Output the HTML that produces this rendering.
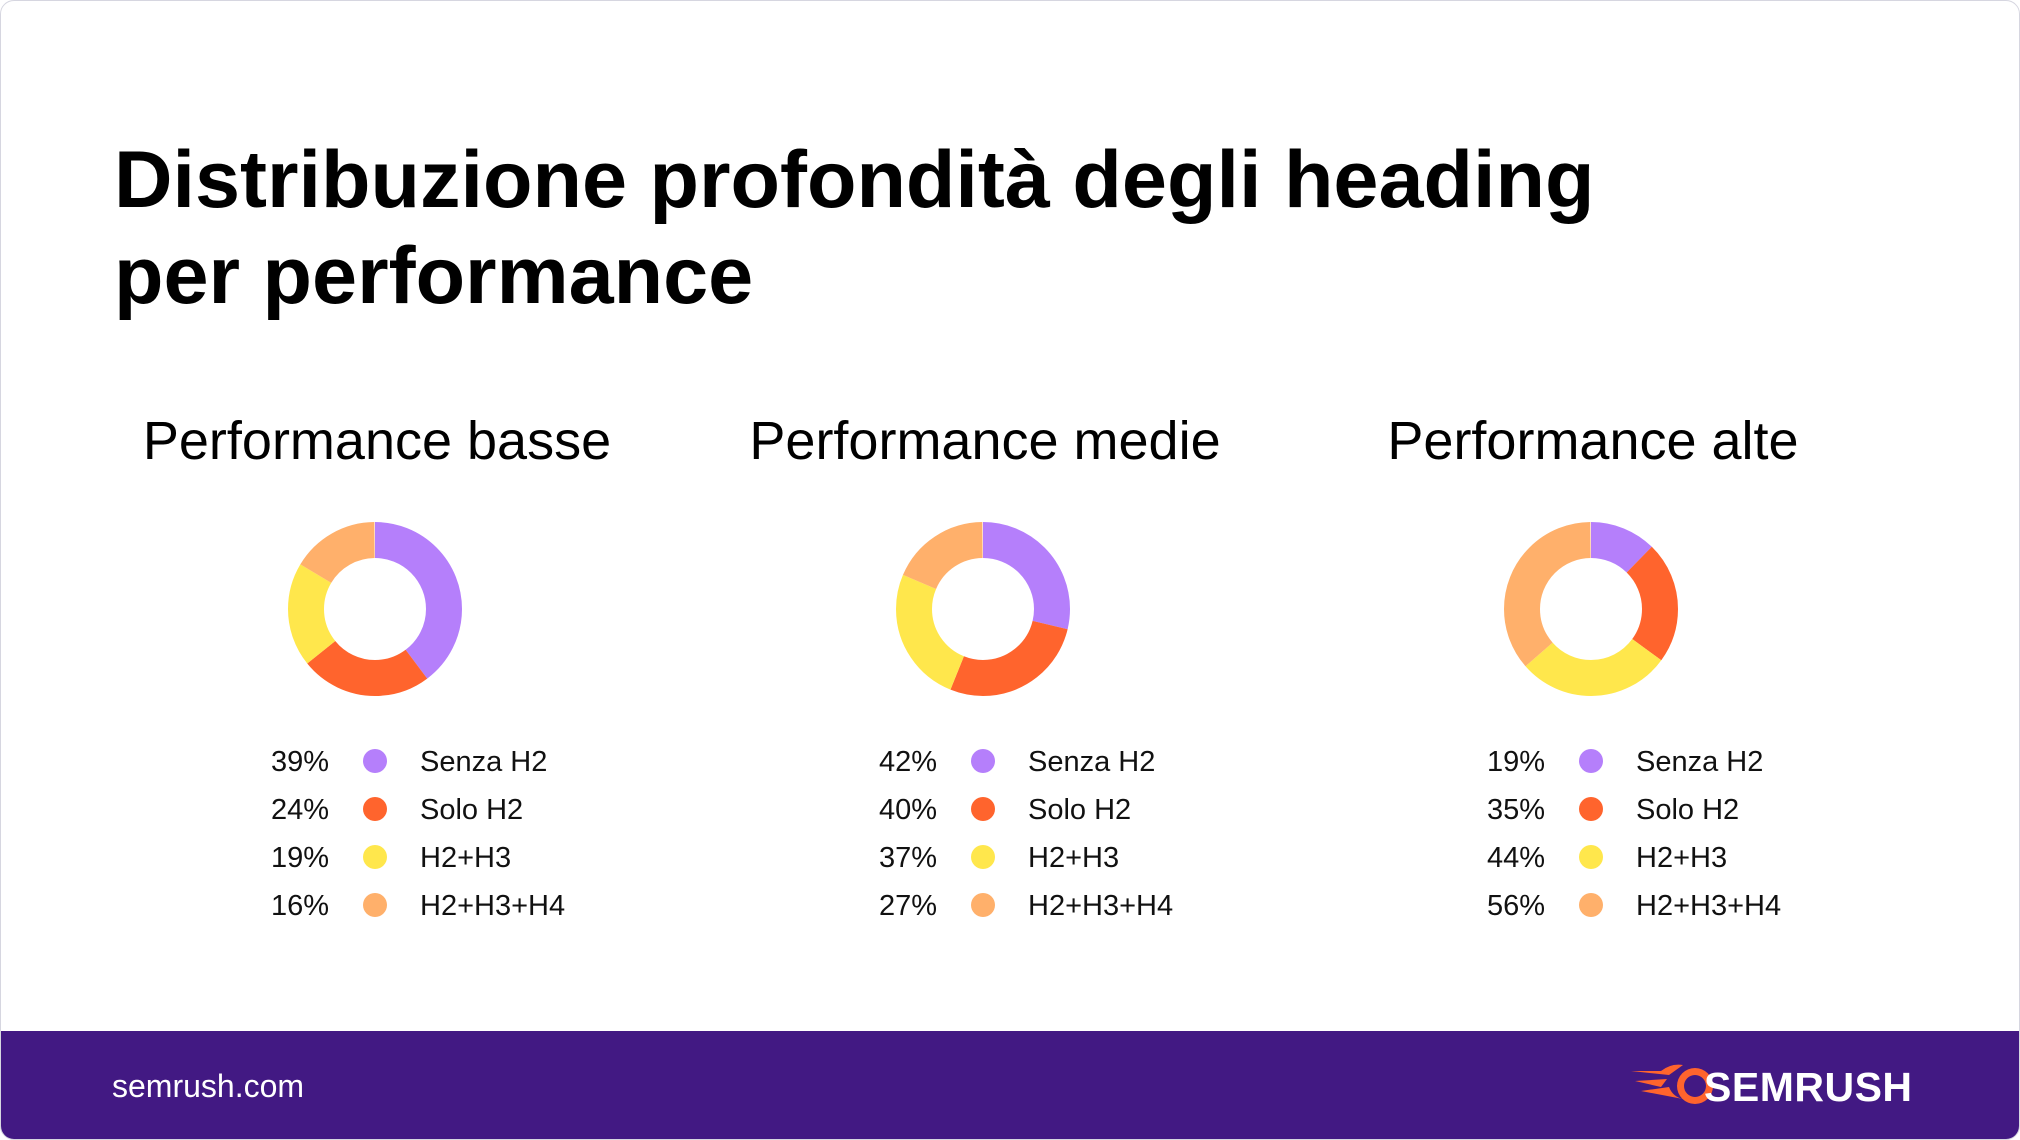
<!DOCTYPE html>
<html><head><meta charset="utf-8"><style>
body{margin:0;width:2020px;height:1140px;overflow:hidden;background:#fff;font-family:"Liberation Sans",sans-serif;}
.card{position:absolute;left:0;top:0;width:2018px;height:1138px;border:1px solid #d6d6e0;border-radius:14px;overflow:hidden;background:#fff}
</style></head><body>
<div class="card">
<svg width="2020" height="1140" style="position:absolute;left:0;top:0">
<g font-family="Liberation Sans, sans-serif" fill="#000">
<text x="113" y="206" font-size="81" font-weight="bold" letter-spacing="0">Distribuzione profondità degli heading</text>
<text x="113" y="302" font-size="81" font-weight="bold" letter-spacing="0">per performance</text>
<g font-size="54" text-anchor="middle">
<text x="376" y="458">Performance basse</text>
<text x="984" y="458">Performance medie</text>
<text x="1592" y="458">Performance alte</text>
</g>
</g>
<g fill="none" stroke-width="36" transform="rotate(-90)">
<g transform="translate(-608,374)">
<circle r="69" pathLength="100" stroke="#b57ffb" stroke-dasharray="39.80 100" stroke-dashoffset="0"/>
<circle r="69" pathLength="100" stroke="#ff642d" stroke-dasharray="24.49 100" stroke-dashoffset="-39.80"/>
<circle r="69" pathLength="100" stroke="#ffe74c" stroke-dasharray="19.39 100" stroke-dashoffset="-64.29"/>
<circle r="69" pathLength="100" stroke="#ffb06b" stroke-dasharray="16.33 100" stroke-dashoffset="-83.68"/>
</g>
<g transform="translate(-608,982)">
<circle r="69" pathLength="100" stroke="#b57ffb" stroke-dasharray="28.77 100" stroke-dashoffset="0"/>
<circle r="69" pathLength="100" stroke="#ff642d" stroke-dasharray="27.40 100" stroke-dashoffset="-28.77"/>
<circle r="69" pathLength="100" stroke="#ffe74c" stroke-dasharray="25.34 100" stroke-dashoffset="-56.17"/>
<circle r="69" pathLength="100" stroke="#ffb06b" stroke-dasharray="18.49 100" stroke-dashoffset="-81.51"/>
</g>
<g transform="translate(-608,1590)">
<circle r="69" pathLength="100" stroke="#b57ffb" stroke-dasharray="12.34 100" stroke-dashoffset="0"/>
<circle r="69" pathLength="100" stroke="#ff642d" stroke-dasharray="22.73 100" stroke-dashoffset="-12.34"/>
<circle r="69" pathLength="100" stroke="#ffe74c" stroke-dasharray="28.57 100" stroke-dashoffset="-35.07"/>
<circle r="69" pathLength="100" stroke="#ffb06b" stroke-dasharray="36.36 100" stroke-dashoffset="-63.64"/>
</g>
</g>
<g font-family="Liberation Sans, sans-serif" font-size="29" fill="#111">
<g transform="translate(0,0)">
<text x="328" y="770" text-anchor="end">39%</text><circle cx="374" cy="760" r="12" fill="#b57ffb"/><text x="419" y="770">Senza H2</text>
<text x="328" y="818" text-anchor="end">24%</text><circle cx="374" cy="808" r="12" fill="#ff642d"/><text x="419" y="818">Solo H2</text>
<text x="328" y="866" text-anchor="end">19%</text><circle cx="374" cy="856" r="12" fill="#ffe74c"/><text x="419" y="866">H2+H3</text>
<text x="328" y="914" text-anchor="end">16%</text><circle cx="374" cy="904" r="12" fill="#ffb06b"/><text x="419" y="914">H2+H3+H4</text>
</g>
<g transform="translate(608,0)">
<text x="328" y="770" text-anchor="end">42%</text><circle cx="374" cy="760" r="12" fill="#b57ffb"/><text x="419" y="770">Senza H2</text>
<text x="328" y="818" text-anchor="end">40%</text><circle cx="374" cy="808" r="12" fill="#ff642d"/><text x="419" y="818">Solo H2</text>
<text x="328" y="866" text-anchor="end">37%</text><circle cx="374" cy="856" r="12" fill="#ffe74c"/><text x="419" y="866">H2+H3</text>
<text x="328" y="914" text-anchor="end">27%</text><circle cx="374" cy="904" r="12" fill="#ffb06b"/><text x="419" y="914">H2+H3+H4</text>
</g>
<g transform="translate(1216,0)">
<text x="328" y="770" text-anchor="end">19%</text><circle cx="374" cy="760" r="12" fill="#b57ffb"/><text x="419" y="770">Senza H2</text>
<text x="328" y="818" text-anchor="end">35%</text><circle cx="374" cy="808" r="12" fill="#ff642d"/><text x="419" y="818">Solo H2</text>
<text x="328" y="866" text-anchor="end">44%</text><circle cx="374" cy="856" r="12" fill="#ffe74c"/><text x="419" y="866">H2+H3</text>
<text x="328" y="914" text-anchor="end">56%</text><circle cx="374" cy="904" r="12" fill="#ffb06b"/><text x="419" y="914">H2+H3+H4</text>
</g>
</g>
<rect x="0" y="1030" width="2020" height="110" fill="#421983"/>
<text x="111" y="1096" font-family="Liberation Sans, sans-serif" font-size="32" fill="#fff">semrush.com</text>
<g transform="translate(1630,1068)">
<path d="M0 2 L30 2 Q40 -6 52 -4 L38 6 Z M4 12 L36 10 L30 18 Z M10 22 L38 18 Q42 28 52 30 Z" fill="#ff642d"/>
<circle cx="64" cy="17" r="18" fill="#ff642d"/>
<circle cx="64" cy="17" r="11" fill="#421983"/>
</g>
<text x="1703" y="1100" font-family="Liberation Sans, sans-serif" font-size="41" font-weight="bold" fill="#fff" letter-spacing="0.5">SEMRUSH</text>
</svg>
</div>
</body></html>
